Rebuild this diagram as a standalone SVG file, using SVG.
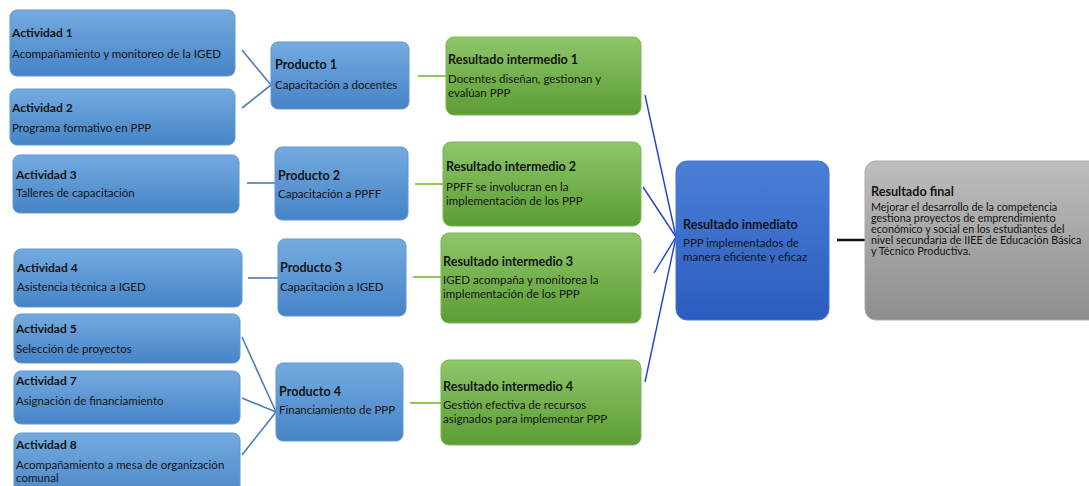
<svg xmlns="http://www.w3.org/2000/svg" width="1089" height="486" viewBox="0 0 1089 486">
<defs>
<linearGradient id="gBlue" x1="0" y1="0" x2="0" y2="1">
<stop offset="0" stop-color="#74aadf"/><stop offset="1" stop-color="#4684c7"/>
</linearGradient>
<linearGradient id="gGreen" x1="0" y1="0" x2="0" y2="1">
<stop offset="0" stop-color="#8ec66a"/><stop offset="1" stop-color="#5b9d33"/>
</linearGradient>
<linearGradient id="gDeep" x1="0" y1="0" x2="0" y2="1">
<stop offset="0" stop-color="#4b7fd6"/><stop offset="1" stop-color="#2c5bbf"/>
</linearGradient>
<linearGradient id="gGray" x1="0" y1="0" x2="0" y2="1">
<stop offset="0" stop-color="#bdbdbd"/><stop offset="1" stop-color="#8e8e8e"/>
</linearGradient>
</defs>
<style>
.blue{fill:url(#gBlue);stroke:#5f97d4;stroke-width:1}
.green{fill:url(#gGreen);stroke:#7ab556;stroke-width:1}
.deep{fill:url(#gDeep);stroke:#4576d0;stroke-width:1}
.gray{fill:url(#gGray);stroke:#a9a9a9;stroke-width:1}
text{font-family:Lato,"Liberation Sans",sans-serif;fill:#141414}
.t{font-weight:bold;font-size:12px}
.b{font-size:11.5px}
.bf{font-size:10.8px}
.tl{font-weight:bold;font-size:12.6px}
.c-act{stroke:#4a7dba;stroke-width:1.6;fill:none}
.c-prod{stroke:#8dc853;stroke-width:2;fill:none}
.c-res{stroke:#1f3fd2;stroke-width:1.4;fill:none}
.c-fin{stroke:#111;stroke-width:2.5;fill:none}
</style>
<g id="connectors">
<line class="c-act" x1="242" y1="50" x2="271" y2="85"/>
<line class="c-act" x1="242" y1="108" x2="271" y2="85"/>
<line class="c-act" x1="247" y1="183" x2="275" y2="183"/>
<line class="c-act" x1="248" y1="278" x2="278" y2="278"/>
<line class="c-act" x1="242" y1="337" x2="276" y2="412"/>
<line class="c-act" x1="242" y1="398" x2="276" y2="412"/>
<line class="c-act" x1="242" y1="455" x2="276" y2="412"/>
<line class="c-prod" x1="418" y1="76" x2="446" y2="76"/>
<line class="c-prod" x1="415" y1="184" x2="443" y2="184"/>
<line class="c-prod" x1="413" y1="277" x2="441" y2="277"/>
<line class="c-prod" x1="410" y1="403" x2="441" y2="403"/>
<line class="c-res" x1="645" y1="95" x2="676" y2="237"/>
<line class="c-res" x1="643" y1="187" x2="676" y2="237"/>
<line class="c-res" x1="654" y1="273" x2="676" y2="237"/>
<line class="c-res" x1="645" y1="382" x2="676" y2="237"/>
<line class="c-fin" x1="837" y1="240" x2="865" y2="240"/>
</g>
<g id="act1"><rect class="blue" x="10" y="10" width="225" height="66" rx="7"/>
<text class="t" x="12" y="37">Actividad 1</text><text class="b" x="12" y="58">Acompañamiento y monitoreo de la IGED</text></g>
<g id="act2"><rect class="blue" x="10" y="89" width="225" height="56" rx="7"/>
<text class="t" x="12" y="112">Actividad 2</text><text class="b" x="12" y="132">Programa formativo en PPP</text></g>
<g id="act3"><rect class="blue" x="13" y="155" width="226" height="58" rx="7"/>
<text class="t" x="16" y="179">Actividad 3</text><text class="b" x="16" y="197">Talleres de capacitación</text></g>
<g id="act4"><rect class="blue" x="14" y="249" width="228" height="58" rx="7"/>
<text class="t" x="17" y="272">Actividad 4</text><text class="b" x="17" y="291">Asistencia técnica a IGED</text></g>
<g id="act5"><rect class="blue" x="14" y="314" width="226" height="49" rx="7"/>
<text class="t" x="16" y="333">Actividad 5</text><text class="b" x="16" y="353">Selección de proyectos</text></g>
<g id="act7"><rect class="blue" x="14" y="371" width="226" height="53" rx="7"/>
<text class="t" x="16" y="385">Actividad 7</text><text class="b" x="16" y="405">Asignación de financiamiento</text></g>
<g id="act8"><rect class="blue" x="14" y="433" width="226" height="70" rx="7"/>
<text class="t" x="16" y="449">Actividad 8</text><text class="b" x="16" y="469">Acompañamiento a mesa de organización</text><text class="b" x="16" y="482">comunal</text></g>
<g id="prod1"><rect class="blue" x="271" y="42" width="138" height="67" rx="7"/>
<text class="tl" x="275" y="69">Producto 1</text><text class="b" x="275" y="89">Capacitación a docentes</text></g>
<g id="prod2"><rect class="blue" x="275" y="147" width="133" height="73" rx="7"/>
<text class="tl" x="278" y="180">Producto 2</text><text class="b" x="278" y="198">Capacitación a PPFF</text></g>
<g id="prod3"><rect class="blue" x="278" y="239" width="128" height="77" rx="7"/>
<text class="tl" x="280" y="272">Producto 3</text><text class="b" x="280" y="291">Capacitación a IGED</text></g>
<g id="prod4"><rect class="blue" x="276" y="363" width="127" height="78" rx="7"/>
<text class="tl" x="279" y="396">Producto 4</text><text class="b" x="279" y="414">Financiamiento de PPP</text></g>
<g id="ri1"><rect class="green" x="446" y="37" width="195" height="78" rx="8"/>
<text class="tl" x="448" y="64">Resultado intermedio 1</text><text class="b" x="448" y="83">Docentes diseñan, gestionan y</text><text class="b" x="448" y="97">evalúan PPP</text></g>
<g id="ri2"><rect class="green" x="443" y="142" width="198" height="84" rx="8"/>
<text class="tl" x="446" y="171">Resultado intermedio 2</text><text class="b" x="446" y="191">PPFF se involucran en la</text><text class="b" x="446" y="205">implementación de los PPP</text></g>
<g id="ri3"><rect class="green" x="441" y="233" width="200" height="90" rx="8"/>
<text class="tl" x="443" y="266">Resultado intermedio 3</text><text class="b" x="443" y="284">IGED acompaña y monitorea la</text><text class="b" x="443" y="298">implementación de los PPP</text></g>
<g id="ri4"><rect class="green" x="441" y="360" width="200" height="85" rx="8"/>
<text class="tl" x="443" y="391">Resultado intermedio 4</text><text class="b" x="443" y="409">Gestión efectiva de recursos</text><text class="b" x="443" y="423">asignados para implementar PPP</text></g>
<g id="inmediato"><rect class="deep" x="676" y="161" width="153" height="159" rx="11"/>
<text class="tl" x="683" y="229">Resultado inmediato</text><text class="b" x="683" y="247">PPP implementados de</text><text class="b" x="683" y="261">manera eficiente y eficaz</text></g>
<g id="final"><rect class="gray" x="865" y="161" width="240" height="159" rx="11"/>
<text class="tl" x="871" y="196">Resultado final</text>
<text class="bf" x="871" y="211">Mejorar el desarrollo de la competencia</text>
<text class="bf" x="871" y="222">gestiona proyectos de emprendimiento</text>
<text class="bf" x="871" y="233">económico y social en los estudiantes del</text>
<text class="bf" x="871" y="244">nivel secundaria de IIEE de Educación Básica</text>
<text class="bf" x="871" y="255">y Técnico Productiva.</text></g>
</svg>
